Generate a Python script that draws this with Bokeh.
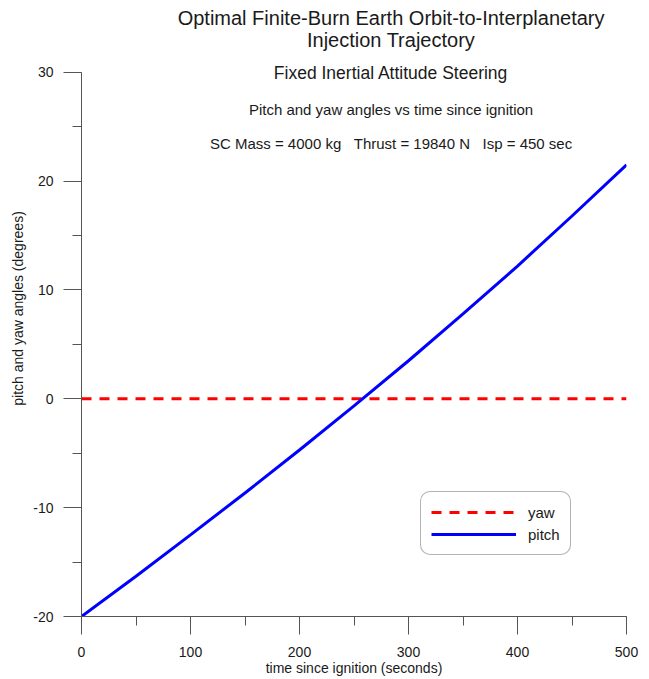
from bokeh.plotting import figure
from bokeh.models import (Range1d, SingleIntervalTicker, Label, Legend, LegendItem,
                          PrintfTickFormatter)
from bokeh.embed import file_html
from bokeh.resources import INLINE

# Burn data: time since ignition (s) and steering angles (deg)
time_s = [0, 50, 100, 150, 200, 250, 300, 350, 400, 450, 500]
pitch_deg = [-20.0, -16.3, -12.5, -8.65, -4.7, -0.65, 3.5, 7.8, 12.2, 16.8, 21.5]
yaw_time_s = [0, 500]
yaw_deg = [0.0, 0.0]

title_lines = ["Optimal Finite-Burn Earth Orbit-to-Interplanetary",
               "Injection Trajectory"]
NB = "\u00a0"
sub_lines = ["Fixed Inertial Attitude Steering",
             "Pitch and yaw angles vs time since ignition",
             f"SC Mass = 4000 kg{NB*3}Thrust = 19840 N{NB*3}Isp = 450 sec"]

FONT = "Liberation Sans"
AXIS_COLOR = "#555555"
TEXT_COLOR = "#1a1a1a"

# y range extends above the axis so the heading text sits inside the frame;
# the visible axis stops at 30 via its bounds
p = figure(width=649, height=679, output_backend="svg", toolbar_location=None,
           x_range=Range1d(0, 500), y_range=Range1d(-20, 36.6),
           min_border_left=81, min_border_right=23,
           min_border_top=0, min_border_bottom=63)
p.outline_line_color = None
p.xgrid.visible = False
p.ygrid.visible = False
p.background_fill_color = "white"
p.border_fill_color = "white"

p.xaxis.ticker = SingleIntervalTicker(interval=100, num_minor_ticks=2)
p.yaxis.ticker = SingleIntervalTicker(interval=10, num_minor_ticks=2)
p.yaxis.bounds = (-20, 30)
for ax in (p.xaxis, p.yaxis):
    ax.formatter = PrintfTickFormatter(format="%d")
    ax.axis_line_color = AXIS_COLOR
    ax.major_tick_line_color = AXIS_COLOR
    ax.minor_tick_line_color = AXIS_COLOR
    ax.major_tick_in = 0
    ax.major_tick_out = 18
    ax.minor_tick_in = 0
    ax.minor_tick_out = 9
    ax.major_label_text_font = FONT
    ax.major_label_text_font_size = "14px"
    ax.major_label_text_color = TEXT_COLOR
    ax.axis_label_text_font = FONT
    ax.axis_label_text_font_size = "14px"
    ax.axis_label_text_font_style = "normal"
    ax.axis_label_text_color = TEXT_COLOR
p.xaxis.major_label_standoff = 12
p.yaxis.major_label_standoff = 10
p.xaxis.axis_label = "time since ignition (seconds)"
p.yaxis.axis_label = "pitch and yaw angles (degrees)"
p.xaxis.axis_label_standoff = 0
p.yaxis.axis_label_standoff = 4

yaw_r = p.line(yaw_time_s, yaw_deg, line_color="red", line_width=3,
               line_dash="10 8")
pitch_r = p.line(time_s, pitch_deg, line_color="blue", line_width=3)

# Titles and run description
title_x = 284
for txt, y in zip(title_lines, [34.95, 32.95]):
    p.add_layout(Label(x=title_x, y=y, text=txt, text_align="center",
                       text_baseline="middle", text_font=FONT,
                       text_font_size="20px", text_color=TEXT_COLOR))
for txt, y, size in zip(sub_lines, [29.9, 26.6, 23.5], ["17.5px", "15px", "15px"]):
    p.add_layout(Label(x=title_x, y=y, text=txt, text_align="center",
                       text_baseline="middle", text_font=FONT,
                       text_font_size=size, text_color=TEXT_COLOR))

legend = Legend(items=[LegendItem(label="yaw", renderers=[yaw_r]),
                       LegendItem(label="pitch", renderers=[pitch_r])],
                location=(339, 61), orientation="vertical",
                glyph_width=85, glyph_height=20, label_height=20,
                label_standoff=12, spacing=2, padding=10, margin=0,
                label_text_font=FONT, label_text_font_size="15px",
                label_text_color=TEXT_COLOR,
                border_line_color="#666666", border_line_width=1,
                background_fill_color="white", background_fill_alpha=1)
if "border_radius" in Legend.properties():
    legend.border_radius = 10
p.add_layout(legend, "center")

open("out.html", "w").write(file_html(p, INLINE))
